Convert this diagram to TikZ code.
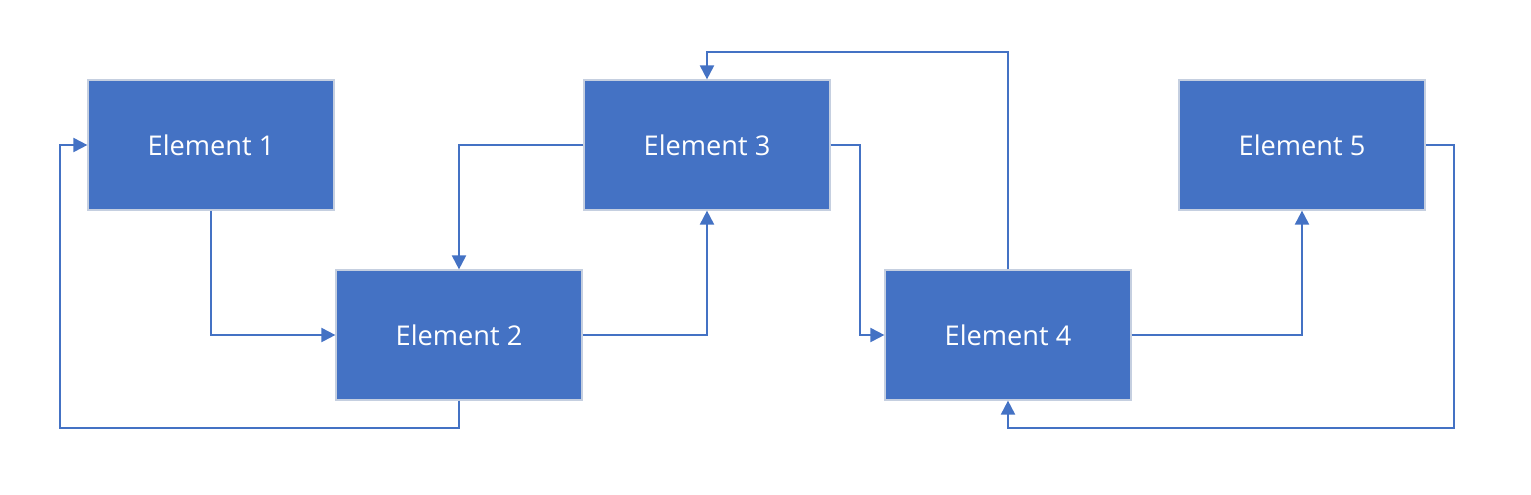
\documentclass[tikz,border=0pt]{standalone}
\usepackage{fontspec}
\setmainfont{Open Sans}
\usetikzlibrary{arrows.meta}
\definecolor{elblue}{HTML}{4472C4}
\definecolor{elrim}{HTML}{C5CFE0}

\begin{document}
\begin{tikzpicture}[x=0.5pt, y=-0.5pt,
  font=\fontsize{13.6}{15}\selectfont,
  element/.style={draw=elrim, line width=0.6pt, fill=elblue, text=white,
                  minimum width=123pt, minimum height=65pt, inner sep=0pt},
  link/.style={draw=elblue, line width=1pt, -{Triangle[length=7pt,width=7pt]}}]
  \useasboundingbox (0,0) rectangle (1531,494);
  \node[element] (e1) at (211,145) {Element 1};
  \node[element] (e2) at (459,335) {Element 2};
  \node[element] (e3) at (707,145) {Element 3};
  \node[element] (e4) at (1008,335) {Element 4};
  \node[element] (e5) at (1302,145) {Element 5};
  \coordinate (loopl) at (60,428);
  \coordinate (loopr) at (1454,428);
  \coordinate (looptop) at (1008,52);
  \draw[link] (e1.south) |- (e2.west);
  \draw[link] (e2.east) -| (e3.south);
  \draw[link] (e3.west) -| (e2.north);
  \draw[link] (e2.south) |- (loopl) |- (e1.west);
  \draw[link] (e3.east) -- ++(29,0) |- (e4.west);
  \draw[link] (e4.north) -- (looptop) -| (e3.north);
  \draw[link] (e4.east) -| (e5.south);
  \draw[link] (e5.east) -| (loopr) -| (e4.south);
\end{tikzpicture}
\end{document}
